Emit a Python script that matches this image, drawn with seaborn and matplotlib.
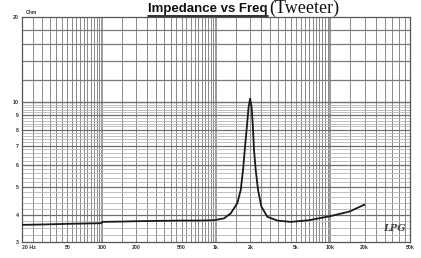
import matplotlib
matplotlib.use("Agg")
import matplotlib.pyplot as plt
import seaborn as sns
import pandas as pd
from matplotlib.lines import Line2D

# impedance curve
freq_hz = [20, 30, 50, 70, 99, 101, 150, 200, 300, 500, 700, 960, 1175, 1346,
           1538, 1647, 1725, 1786, 1870, 1930, 1990, 2050, 2100, 2153, 2228,
           2335, 2497, 2818, 3450, 4500, 6500, 10000, 14700, 20000]
impedance_ohm = [3.68, 3.69, 3.71, 3.72, 3.73, 3.77, 3.78, 3.79, 3.80, 3.81, 3.81,
                 3.82, 3.88, 4.04, 4.39, 4.89, 5.75, 6.77, 8.3, 9.6, 10.3, 9.6,
                 8.3, 6.77, 5.75, 4.89, 4.27, 3.93, 3.81, 3.77, 3.82, 3.95, 4.10, 4.34]

x_ticks = [20, 50, 100, 200, 500, 1000, 2000, 5000, 10000, 20000, 50000]
x_labels = ["20 Hz", "50", "100", "200", "500", "1k", "2k", "5k", "10k", "20k", "50k"]
y_ticks = [3.2, 4, 5, 6, 7, 8, 9, 10, 20]
y_labels = ["3", "4", "5", "6", "7", "8", "9", "10", "20"]

df = pd.DataFrame({"Frequency": freq_hz, "Impedance": impedance_ohm})

sns.set_style("white")
plt.rcParams['font.family'] = ['Liberation Sans', 'DejaVu Sans']

fig = plt.figure(figsize=(4.21, 2.58), dpi=100)
ax = fig.add_axes([0.052, 0.062, 0.922, 0.872])
ax.set_xscale("log")
ax.set_yscale("log")
ax.set_xlim(20, 50000)
ax.set_ylim(3.2, 20)

# grid paper: vertical lines every half step of each decade
for dec in [10, 100, 1000, 10000]:
    for m in [1, 1.5, 2, 2.5, 3, 3.5, 4, 4.5, 5, 5.5, 6, 6.5, 7, 7.5, 8, 8.5, 9, 9.5]:
        v = m * dec
        if 20 < v < 50000:
            lw = 1.2 if m == 1 else 0.7
            ax.axvline(v, color="#8a8a8a", lw=lw, zorder=1)
# horizontal lines
for v in [12, 14, 16, 18]:
    ax.axhline(v, color="#7a7a7a", lw=0.9, zorder=1)
for i in range(17, 50):
    v = i * 0.2
    if abs(v - round(v)) < 1e-6:
        ax.axhline(v, color="#6e6e6e", lw=0.9, zorder=1)
    else:
        ax.axhline(v, color="#b4b4b4", lw=0.6, zorder=1)
ax.axhline(10, color="#6e6e6e", lw=1.0, zorder=1)

sns.lineplot(data=df, x="Frequency", y="Impedance", ax=ax, color="#1a1a1a",
             lw=1.3, zorder=3, legend=False)

ax.set_xticks(x_ticks)
ax.set_xticklabels(x_labels, fontsize=3.8, fontweight="bold", color="#333333")
ax.xaxis.get_majorticklabels()[0].set_horizontalalignment("left")
ax.set_yticks(y_ticks)
ax.set_yticklabels(y_labels, fontsize=3.8, fontweight="bold", color="#333333")
ax.minorticks_off()
ax.tick_params(length=0, pad=2)
ax.set_xlabel("")
ax.set_ylabel("")
for s in ax.spines.values():
    s.set_color("#555555")
    s.set_linewidth(0.9)

fig.text(0.062, 0.945, "Ohm", fontsize=3.5, fontweight="bold", color="#333333")
ax.text(0.93, 0.05, "LPG", transform=ax.transAxes, fontsize=7, style="italic",
        fontweight="bold", color="#444444", family="DejaVu Serif", zorder=4)

t1 = fig.text(148 / 421, 1 - 12 / 258, "Impedance vs Freq", fontsize=9.5,
              fontweight="bold", ha="left", va="baseline", color="#111111")
fig.canvas.draw()
bb = t1.get_window_extent(fig.canvas.get_renderer()).transformed(fig.transFigure.inverted())
fig.text(bb.x1 + 0.003, 1 - 13 / 258, "(Tweeter)", fontsize=13,
         family="Liberation Serif", ha="left", va="baseline", color="#111111")
fig.add_artist(Line2D([bb.x0, bb.x1], [bb.y0 - 0.004, bb.y0 - 0.004],
                      transform=fig.transFigure, color="#111111", lw=1.2))

fig.savefig("out.png", dpi=100)
